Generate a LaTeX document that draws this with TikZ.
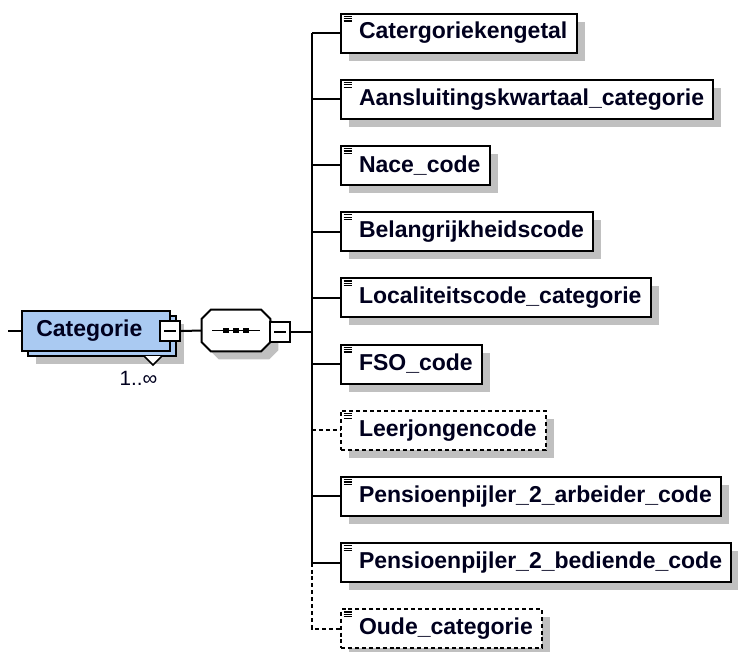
\documentclass[tikz,border=0pt]{standalone}
\usepackage{fontspec}
\setmainfont{Liberation Sans}
\usetikzlibrary{shadows,calc}
\definecolor{shadowgray}{RGB}{192,192,192}
\definecolor{catblue}{RGB}{170,202,242}
\definecolor{txt}{RGB}{0,0,30}
\newcommand{\elemfont}{\fontsize{17.25}{20}\selectfont\bfseries}
\newcommand{\ename}[1]{\kern13.5pt#1\kern7pt}
\begin{document}
\begin{tikzpicture}[x=0.75pt,y=-0.75pt,
  lw/.style={line width=1.5pt},
  shad/.style={drop shadow={shadow xshift=6pt,shadow yshift=-6pt,fill=shadowgray,opacity=1}},
  elem/.style={draw,lw,fill=white,anchor=west,minimum height=29.25pt,inner xsep=0pt,inner ysep=0pt,
     font=\elemfont,text=txt,shad,
     path picture={\draw[line width=0.8pt,solid]
        ([xshift=2pt,yshift=-2pt]path picture bounding box.north west) -- ++(6pt,0)
        ++(-6pt,-1.8pt) -- ++(6pt,0) ++(-6pt,-1.8pt) -- ++(6pt,0);}},
  optelem/.style={elem,dash pattern=on 3pt off 2.2pt},
  minus/.style={draw,lw,fill=white,minimum size=15pt,inner sep=0pt,
     path picture={\draw[line width=1.1pt] ([xshift=3pt]path picture bounding box.west) -- ([xshift=-3pt]path picture bounding box.east);}},
  conn/.style={lw},
  optline/.style={lw,dash pattern=on 3pt off 2.2pt}
]
\useasboundingbox (0,0) rectangle (738,651);

% Categorie stacked element
\node[draw,lw,fill=catblue,minimum width=111pt,minimum height=30pt,shad] (catback) at (101.5,336) {};
\node[draw,lw,fill=catblue,minimum width=111pt,minimum height=30pt,font=\elemfont,text=txt] (cat) at (96,331) {Categorie\kern10pt};
\draw[fill=white,line width=1.1pt] (144,356) -- (153,365) -- (162,356);
\node[font=\fontsize{15.5}{17}\selectfont,text=txt] (mult) at (138.5,378) {1..∞};
\node[minus] (catminus) at (170,331) {};
\coordinate (leftend) at (8,331);
\draw[conn] (leftend) -- (cat.west);

% sequence compositor
\node[minimum width=51pt,minimum height=30.75pt,inner sep=0pt] (seq) at (236,330.5) {};
\fill[shadowgray] ($(seq.north west)+(8+9,8)$) -- ($(seq.north east)+(8-9,8)$) -- ($(seq.north east)+(8,8+9)$)
  -- ($(seq.south east)+(8,8-9)$) -- ($(seq.south east)+(8-9,8)$) -- ($(seq.south west)+(8+9,8)$)
  -- ($(seq.south west)+(8,8-9)$) -- ($(seq.north west)+(8,8+9)$) -- cycle;
\draw[lw,fill=white] ($(seq.north west)+(9,0)$) -- ($(seq.north east)+(-9,0)$) -- ($(seq.north east)+(0,9)$)
  -- ($(seq.south east)+(0,-9)$) -- ($(seq.south east)+(-9,0)$) -- ($(seq.south west)+(9,0)$)
  -- ($(seq.south west)+(0,-9)$) -- ($(seq.north west)+(0,9)$) -- cycle;
\draw[line width=1.1pt] ($(seq.center)+(-24,0)$) -- ($(seq.center)+(24,0)$);
\foreach \dx in {-10,0,10}
  \fill ($(seq.center)+(\dx,0)+(-2.7,-2.7)$) rectangle ++(5.4,5.4);
\node[minus] (seqminus) at (280,332) {};
\draw[conn] (catminus.east) -- (seq.west);

% children
\node[elem] (e1) at (340,33) {\ename{Catergoriekengetal}};
\node[elem] (e2) at (340,99.2) {\ename{Aansluitingskwartaal\_categorie}};
\node[elem] (e3) at (340,165.4) {\ename{Nace\_code}};
\node[elem] (e4) at (340,231.6) {\ename{Belangrijkheidscode}};
\node[elem] (e5) at (340,297.8) {\ename{Localiteitscode\_categorie}};
\node[elem] (e6) at (340,364) {\ename{FSO\_code}};
\node[optelem] (e7) at (340,430.2) {\ename{Leerjongencode}};
\node[elem] (e8) at (340,496.4) {\ename{Pensioenpijler\_2\_arbeider\_code}};
\node[elem] (e9) at (340,562.6) {\ename{Pensioenpijler\_2\_bediende\_code}};
\node[optelem] (e10) at (340,628.8) {\ename{Oude\_categorie}};

\coordinate (trunk) at (312,332);
\draw[conn] (seqminus.east) -- (trunk);
\draw[conn] (e1.west -| trunk) -- (e9.west -| trunk);
\foreach \n in {e1,e2,e3,e4,e5,e6,e8,e9}
  \draw[conn] (\n.west -| trunk) -- (\n.west);
\draw[optline] (e7.west -| trunk) -- (e7.west);
\draw[optline] (e9.west -| trunk) -- (e10.west -| trunk) -- (e10.west);
\end{tikzpicture}
\end{document}
